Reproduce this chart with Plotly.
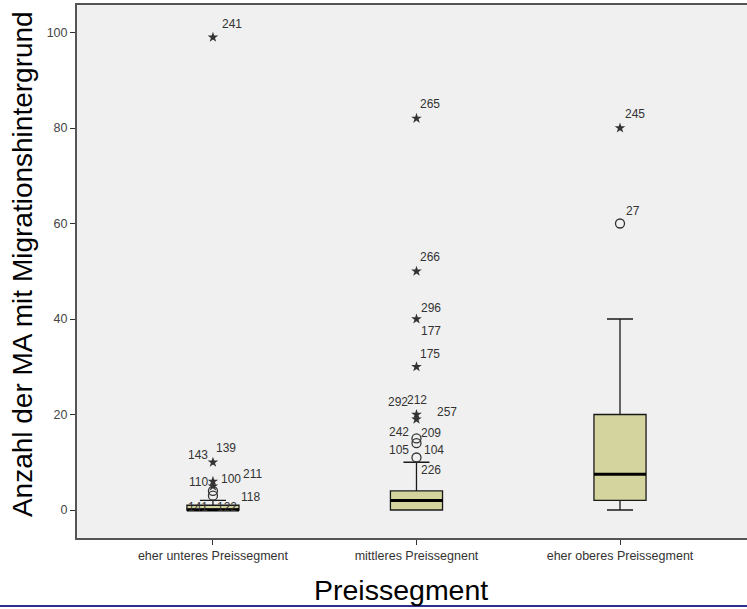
import plotly.graph_objects as go

categories = ["eher unteres Preissegment", "mittleres Preissegnent", "eher oberes Preissegment"]
q1 = [0, 0, 2]
median = [0, 2, 7.5]
q3 = [1, 4, 20]
lower_whisker = [0, 0, 0]
upper_whisker = [2, 10, 40]

circle_cat = [0, 0, 1, 1, 1, 2]
circle_val = [3, 4, 11, 14, 15, 60]

star_cat = [0, 0, 0, 0, 1, 1, 1, 1, 1, 1, 2]
star_val = [5, 6, 10, 99, 19, 20, 30, 40, 50, 82, 80]

label_text = ["241", "143", "139", "110", "100", "211", "118", "141", "122",
              "265", "266", "296", "177", "175", "292", "212", "257",
              "242", "209", "105", "104", "226", "245", "27"]
label_cat = [0, 0, 0, 0, 0, 0, 0, 0, 0,
             1, 1, 1, 1, 1, 1, 1, 1,
             1, 1, 1, 1, 1, 2, 2]
label_val = [99, 10, 10, 6, 6, 6, 3, 3, 3,
             82, 50, 40, 40, 30, 20, 20, 20,
             15, 15, 11, 11, 11, 80, 60]
# pixel offsets of labels (style only)
label_dx = [19, -15, 13, -14, 18, 40, 38, -15, 14,
            14, 14, 15, 15, 14, -18, 1, 31,
            -17, 15, -17, 18, 15, 15, 13]
label_dy = [-13, -7, -14, 1, -2, -7, 1, 11, 11,
            -14, -14, -11, 12, -13, -13, -15, -3,
            -6, -5, -7, -7, 13, -14, -13]

FONT = "Arial, Liberation Sans, sans-serif"
BOX_W = 0.256

fig = go.Figure()

fig.add_trace(go.Box(
    x=list(range(len(categories))),
    q1=q1, median=median, q3=q3,
    lowerfence=lower_whisker, upperfence=upper_whisker,
    width=BOX_W, whiskerwidth=0.5,
    fillcolor="#d4d49e",
    line=dict(color="#1a1a1a", width=1.3),
    boxpoints=False, hoverinfo="skip", showlegend=False,
))

# thick median lines
for i, m in enumerate(median):
    fig.add_trace(go.Scatter(
        x=[i - BOX_W / 2, i + BOX_W / 2], y=[m, m], mode="lines",
        line=dict(color="#000000", width=3), showlegend=False, hoverinfo="skip",
    ))

fig.add_trace(go.Scatter(
    x=circle_cat, y=circle_val, mode="markers",
    marker=dict(symbol="circle-open", size=9, color="#333333", line=dict(width=1.3, color="#333333")),
    showlegend=False, hoverinfo="skip",
))
fig.add_trace(go.Scatter(
    x=star_cat, y=star_val, mode="markers",
    marker=dict(symbol="star", size=8, color="#333333", line=dict(width=0)),
    showlegend=False, hoverinfo="skip",
))

for t, c, v, dx, dy in zip(label_text, label_cat, label_val, label_dx, label_dy):
    fig.add_annotation(x=c, y=v, text=t, showarrow=False, xshift=dx, yshift=-dy,
                       font=dict(family=FONT, size=12, color="#333333"))

# axis titles
fig.add_annotation(xref="paper", yref="paper", x=-0.082, y=0.514, text="Anzahl der MA mit Migrationshintergrund",
                   textangle=-90, showarrow=False, xanchor="center", yanchor="middle",
                   font=dict(family=FONT, size=28, color="#000000"))
fig.add_annotation(xref="paper", yref="paper", x=0.4836, y=-0.0976, text="Preissegment",
                   showarrow=False, xanchor="center", yanchor="middle",
                   font=dict(family=FONT, size=28.5, color="#000000"))

# blue rule at the bottom
fig.add_shape(type="line", xref="paper", yref="paper", x0=-0.12, x1=1.0, y0=-0.1276, y1=-0.1276,
              line=dict(color="#2e2e8c", width=2))

fig.update_layout(
    width=747, height=609,
    margin=dict(l=77, r=0, t=5, b=71),
    paper_bgcolor="#ffffff", plot_bgcolor="#f0f0f0",
    showlegend=False,
    font=dict(family=FONT),
    xaxis=dict(
        range=[-0.668, 2.624], tickmode="array", tickvals=list(range(len(categories))), ticktext=categories,
        showgrid=False, zeroline=False, showline=True, linecolor="#555555", linewidth=2, mirror=True,
        ticks="outside", ticklen=5, tickcolor="#333333",
        tickfont=dict(family=FONT, size=12.5, color="#333333"),
    ),
    yaxis=dict(
        range=[-5.86, 105.76], tickvals=[0, 20, 40, 60, 80, 100],
        showgrid=False, zeroline=False, showline=True, linecolor="#555555", linewidth=2,
        ticks="outside", ticklen=5, tickcolor="#333333",
        tickfont=dict(family=FONT, size=12.5, color="#444444"),
    ),
)

fig.write_html(
    "out.html",
    config={"displayModeBar": False},
    post_script="document.body.style.margin='0px';document.body.style.overflow='hidden';",
)
